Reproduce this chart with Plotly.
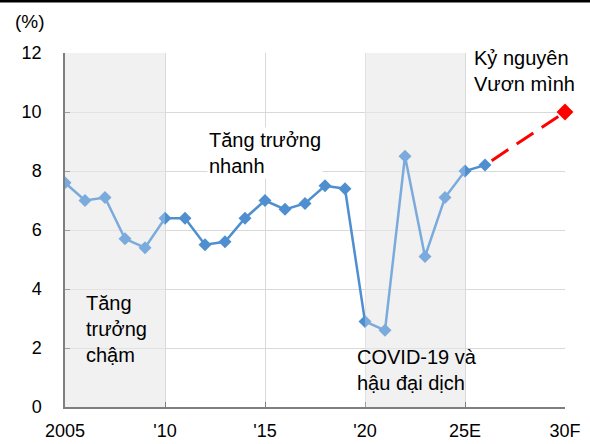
import plotly.graph_objects as go

# ---- data ----
years = list(range(2005, 2027))
growth = [7.6, 7.0, 7.1, 5.7, 5.4, 6.4, 6.4, 5.5, 5.6, 6.4, 7.0,
          6.7, 6.9, 7.5, 7.4, 2.9, 2.6, 8.5, 5.1, 7.1, 8.0, 8.2]
forecast_years = [2026, 2030]
forecast_values = [8.2, 10.0]
tick_years = [2005, 2010, 2015, 2020, 2025, 2030]
tick_labels = ["2005", "'10", "'15", "'20", "25E", "30F"]
shaded_periods = [(2005, 2010), (2020, 2025)]
labels = ["Tăng<br>trưởng<br>chậm", "Tăng trưởng<br>nhanh",
          "COVID-19 và<br>hậu đại dịch", "Kỷ nguyên<br>Vươn mình"]
label_x = [2005.95, 2012.1, 2019.5, 2025.33]
label_y = [2.65, 8.6, 1.24, 11.38]
label_bg = [None, "white", None, "white"]

FONT = "Arial, Liberation Sans, sans-serif"
BLUE = "#4f8fd0"

fig = go.Figure()

fig.add_trace(go.Scatter(
    x=years, y=growth, mode="lines+markers",
    line=dict(color=BLUE, width=2.5),
    marker=dict(symbol="diamond", size=10, color=BLUE),
    showlegend=False, hoverinfo="skip"))

fig.add_trace(go.Scatter(
    x=forecast_years, y=forecast_values, mode="lines",
    line=dict(color="#ff0000", width=3, dash="0px,8px,20px,2px"),
    showlegend=False, hoverinfo="skip"))

fig.add_trace(go.Scatter(
    x=forecast_years[-1:], y=forecast_values[-1:], mode="markers",
    marker=dict(symbol="diamond", size=13, color="#ff0000"),
    showlegend=False, hoverinfo="skip", cliponaxis=False))

shapes = []
for x0, x1 in shaded_periods:
    shapes.append(dict(type="rect", xref="x", yref="y", x0=x0, x1=x1,
                       y0=0, y1=12, fillcolor="#ececec", line_width=0,
                       layer="below"))
    shapes.append(dict(type="rect", xref="x", yref="y", x0=x0, x1=x1,
                       y0=0, y1=12, fillcolor="rgba(255,255,255,0.25)",
                       line_width=0, layer="above"))
shapes.append(dict(type="line", xref="paper", yref="paper",
                   x0=-0.14, x1=1.06, y0=1.1469, y1=1.1469,
                   line=dict(color="black", width=3)))

annotations = []
for t, x, y, bg in zip(labels, label_x, label_y, label_bg):
    a = dict(text=t, x=x, y=y, xref="x", yref="y", xanchor="left",
             yanchor="middle", align="left", showarrow=False,
             font=dict(family=FONT, size=20, color="black"))
    if bg:
        a["bgcolor"] = bg
    annotations.append(a)
annotations.append(dict(text="(%)", x=-0.104, y=1.0876, xref="paper",
                        yref="paper", xanchor="left", yanchor="middle",
                        showarrow=False,
                        font=dict(family=FONT, size=19, color="black")))

fig.update_layout(
    width=590, height=444,
    margin=dict(l=65, r=25, t=53, b=37, autoexpand=False),
    paper_bgcolor="white", plot_bgcolor="white",
    shapes=shapes, annotations=annotations,
    font=dict(family=FONT, size=18, color="black"),
    xaxis=dict(range=[2005, 2030], tickvals=tick_years, ticktext=tick_labels,
               showgrid=True, gridcolor="#d9d9d9", gridwidth=1,
               showline=True, linecolor="#7f7f7f", linewidth=1.5,
               ticks="inside", ticklen=5, tickcolor="#7f7f7f",
               ticklabelstandoff=7, zeroline=False, fixedrange=True,
               automargin=False),
    yaxis=dict(range=[0, 12], dtick=2, tick0=0,
               showgrid=True, gridcolor="#d9d9d9", gridwidth=1,
               showline=True, linecolor="#7f7f7f", linewidth=1.5,
               ticks="inside", ticklen=5, tickcolor="#7f7f7f",
               ticklabelstandoff=18, zeroline=False, fixedrange=True,
               automargin=False),
)

fig.write_html(
    "out.html",
    config={"displayModeBar": False},
    post_script="document.body.style.margin='0px';",
)
